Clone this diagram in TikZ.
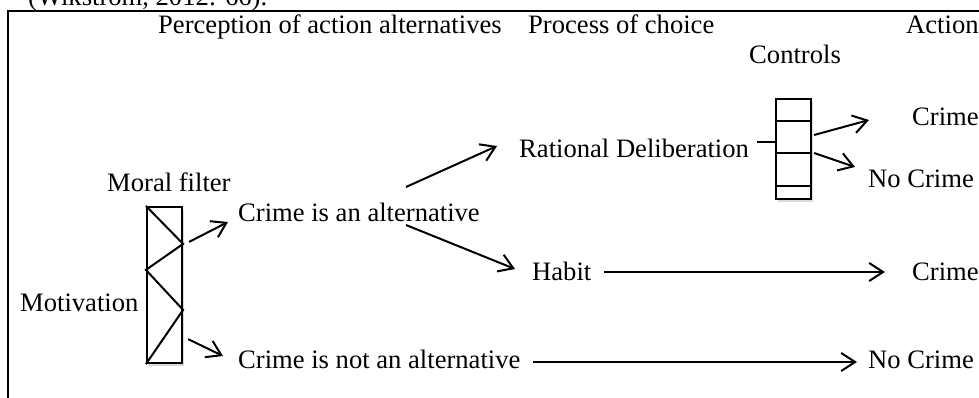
\documentclass[tikz,border=0pt]{standalone}
\usepackage{fontspec}
\setmainfont{Liberation Serif}
\usepackage{tikz}
\usetikzlibrary{positioning}
\usetikzlibrary{calc}
\usetikzlibrary{arrows.meta}
\usetikzlibrary{shadows}
\usepackage{xcolor}

\tikzset{
    lbl/.style={font=\fontsize{26.6}{32}\selectfont, inner sep=0pt, anchor=base west},
    arr/.style={-{Straight Barb[length=14pt,width=18pt]}, line width=2pt},
    boxshape/.style={draw, line width=2.2pt, fill=white, inner sep=0pt,
        drop shadow={opacity=.3, shadow xshift=2pt, shadow yshift=-3pt}}
}

\begin{document}
\begin{tikzpicture}[x=1pt, y=-1pt]
        \useasboundingbox (0,0) rectangle (979,398);
        \draw[line width=2.8pt] (8,420) -- (8,11) -- (1000,11);
        \node[lbl] (cite) at (28,6) {(Wikström, 2012: 66).};

        \node[lbl] (hPerception) at (158,34) {Perception of action alternatives};
        \node[lbl] (hChoice) at (528,34) {Process of choice};
        \node[lbl] (hAction) at (906,34) {Action};
        \node[lbl] (ctrlLabel) at (749,64) {Controls};
        \node[lbl] (filterLabel) at (107,191) {Moral filter};
        \node[lbl] (motivation) at (20,311) {Motivation};
        \node[lbl] (alt) at (238,221) {Crime is an alternative};
        \node[lbl] (notAlt) at (238,368) {Crime is not an alternative};
        \node[lbl] (rational) at (519,158) {Rational Deliberation};
        \node[lbl] (habit) at (532,280) {Habit};
        \node[lbl] (crimeA) at (912,126) {Crime};
        \node[lbl] (noCrimeA) at (868,188) {No Crime};
        \node[lbl] (crimeB) at (912,280) {Crime};
        \node[lbl] (noCrimeB) at (868,368) {No Crime};

        \node[boxshape, minimum width=35pt, minimum height=156pt] (filter) at (164.5,285) {};
        \draw[line width=2pt] (filter.north west) -- ($(filter.north east)+(0,38)$)
            -- ($(filter.north west)+(0,64)$) -- ($(filter.north east)+(0,104)$) -- (filter.south west);

        \node[boxshape, minimum width=35pt, minimum height=100pt] (ctrl) at (793.5,149) {};
        \foreach \y in {121,153,186}
        {
            \draw[line width=2pt] (ctrl.west |- 0,\y) -- (ctrl.east |- 0,\y);
        }
        \draw[line width=2pt] ($(ctrl.west)+(-18,-7)$) -- ($(ctrl.west)+(0,-7)$);

        \draw[arr] ($(filter.north east)+(6,36)$) -- ($(alt.base west)+(-10,1)$);
        \draw[arr] ($(filter.south east)+(5,-25)$) -- ($(notAlt.base west)+(-15,-12)$);
        \draw[arr] ($(alt.base west)+(168,-34)$) -- ($(rational.base west)+(-22,-12)$);
        \draw[arr] ($(alt.base west)+(168,4)$) -- ($(habit.base west)+(-17,-11)$);
        \draw[arr] ($(ctrl.east)+(2,-14)$) -- ($(crimeA.base west)+(-43,-6)$);
        \draw[arr] ($(ctrl.east)+(2,4)$) -- ($(noCrimeA.base west)+(-13,-21)$);
        \draw[arr] ($(habit.base east)+(12,-8)$) -- ($(crimeB.base west)+(-27,-8)$);
        \draw[arr] ($(notAlt.base east)+(12,-6)$) -- ($(noCrimeB.base west)+(-11,-6)$);
    \end{tikzpicture}
\end{document}
